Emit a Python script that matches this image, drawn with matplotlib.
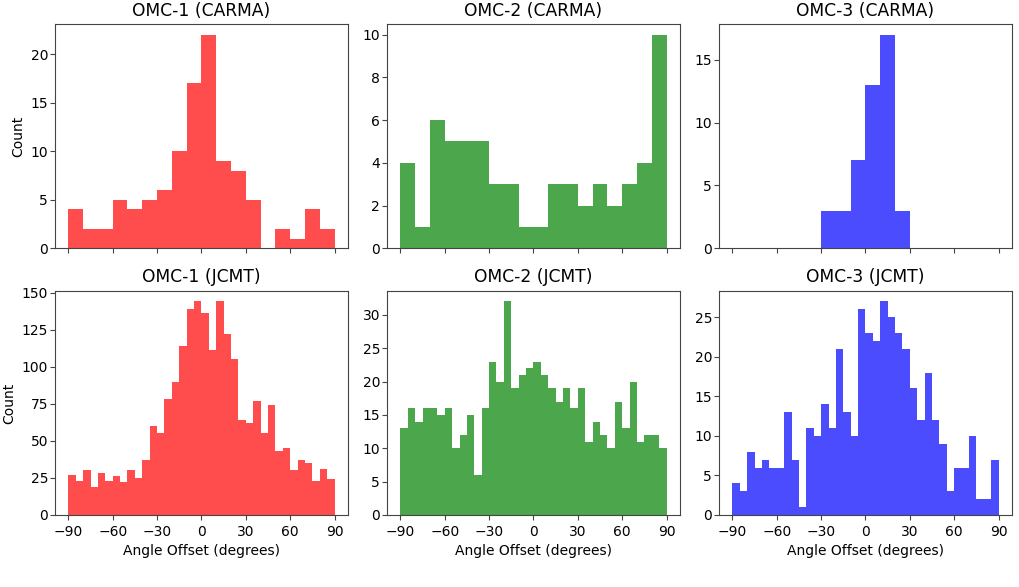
import numpy as np
import matplotlib
matplotlib.use("Agg")
import matplotlib.pyplot as plt
from matplotlib.ticker import MultipleLocator

# ---- data (counts) ----
carma_edges = np.arange(-90, 91, 10)
jcmt_edges = np.arange(-90, 91, 5)

omc1_carma = [4, 2, 2, 5, 4, 5, 6, 10, 17, 22, 9, 8, 5, 0, 2, 1, 4, 2]
omc2_carma = [4, 1, 6, 5, 5, 5, 3, 3, 1, 1, 3, 3, 2, 3, 2, 3, 4, 10]
omc3_carma = [0, 0, 0, 0, 0, 0, 3, 3, 7, 13, 17, 3, 0, 0, 0, 0, 0, 0]

omc1_jcmt = [27, 23, 30, 19, 28, 23, 26, 22, 30, 25, 37, 60, 55, 78, 90, 114, 139, 144,
             136, 111, 144, 122, 105, 64, 62, 77, 55, 74, 43, 45, 30, 37, 35, 23, 31, 24]
omc2_jcmt = [13, 16, 14, 16, 16, 15, 16, 10, 12, 15, 6, 16, 23, 20, 32, 19, 21, 22,
             23, 21, 19, 17, 19, 16, 19, 11, 14, 12, 10, 17, 13, 20, 11, 12, 12, 10]
omc3_jcmt = [4, 3, 8, 6, 7, 6, 6, 13, 7, 1, 11, 10, 14, 11, 21, 13, 10, 26,
             23, 22, 27, 25, 23, 21, 16, 12, 18, 12, 9, 3, 6, 6, 10, 2, 2, 7]

titles_top = ["OMC-1 (CARMA)", "OMC-2 (CARMA)", "OMC-3 (CARMA)"]
titles_bot = ["OMC-1 (JCMT)", "OMC-2 (JCMT)", "OMC-3 (JCMT)"]
colors = ["red", "green", "blue"]
xticks = [-90, -60, -30, 0, 30, 60, 90]
top_steps = [5, 2, 5]
bot_steps = [25, 5, 5]

edge_col = "#444444"
plt.rcParams["axes.edgecolor"] = edge_col
plt.rcParams["xtick.color"] = edge_col
plt.rcParams["ytick.color"] = edge_col
plt.rcParams["xtick.labelcolor"] = "black"
plt.rcParams["ytick.labelcolor"] = "black"

fig, axes = plt.subplots(2, 3, figsize=(10.19, 5.87), dpi=100, sharex=True)
fig.subplots_adjust(left=0.054, right=0.993, top=0.959, bottom=0.1227,
                    wspace=0.134, hspace=0.19)

top_data = [omc1_carma, omc2_carma, omc3_carma]
bot_data = [omc1_jcmt, omc2_jcmt, omc3_jcmt]

for i in range(3):
    ax = axes[0, i]
    centers = (carma_edges[:-1] + carma_edges[1:]) / 2
    ax.hist(centers, bins=carma_edges, weights=top_data[i], color=colors[i], alpha=0.7)
    ax.set_title(titles_top[i], fontsize=12.3)
    ax.yaxis.set_major_locator(MultipleLocator(top_steps[i]))
    ax.tick_params(labelsize=10)
    ax.tick_params(axis="y", pad=1.5)

    ax = axes[1, i]
    centers = (jcmt_edges[:-1] + jcmt_edges[1:]) / 2
    ax.hist(centers, bins=jcmt_edges, weights=bot_data[i], color=colors[i], alpha=0.7)
    ax.set_title(titles_bot[i], fontsize=12.3)
    ax.set_xlabel("Angle Offset (degrees)", fontsize=10)
    ax.set_xticks(xticks)
    ax.yaxis.set_major_locator(MultipleLocator(bot_steps[i]))
    ax.tick_params(labelsize=10)
    ax.tick_params(axis="y", pad=1.5)

axes[0, 0].set_ylabel("Count", fontsize=10)
axes[1, 0].set_ylabel("Count", fontsize=10)

fig.savefig("out.png", dpi=100)
